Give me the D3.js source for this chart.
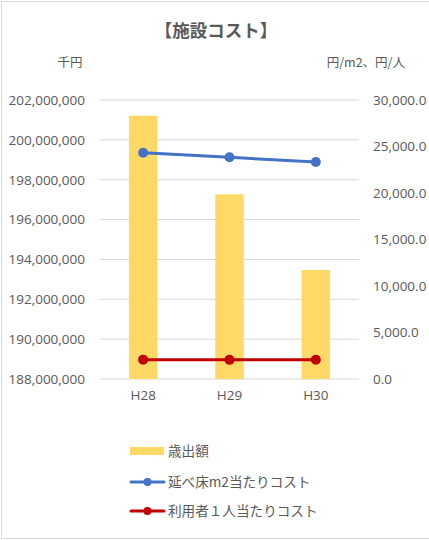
<!DOCTYPE html>
<html>
<head>
<meta charset="utf-8">
<script src="https://cdn.jsdelivr.net/npm/d3@7"></script>
<style>
  body { margin: 0; background: #fff; }
  svg { font-family: "Noto Sans CJK JP", "Noto Sans", sans-serif; }
</style>
</head>
<body>
<div id="chart"></div>
<script>
// data
const years = ["H28", "H29", "H30"];
const spending = [201210000, 197270000, 193470000];   // 歳出額 (千円)
const costPerM2 = [24330, 23840, 23330];              // 延べ床m2当たりコスト
const costPerUser = [2080, 2060, 2070];               // 利用者１人当たりコスト
const leftTicks = [188000000, 190000000, 192000000, 194000000, 196000000, 198000000, 200000000, 202000000];
const rightTicks = [0, 5000, 10000, 15000, 20000, 25000, 30000];

const width = 429, height = 540;
const margin = { top: 100, right: 70, bottom: 161, left: 100 };

const svg = d3.select("#chart").append("svg")
  .attr("width", width)
  .attr("height", height);

// chart frame
svg.append("rect")
  .attr("x", 1.5).attr("y", 1.5)
  .attr("width", width + 10).attr("height", height - 3)
  .attr("fill", "none")
  .attr("stroke", "#d9d9d9");

const x = d3.scaleBand()
  .domain(years)
  .range([margin.left, width - margin.right])
  .paddingInner(0.67)
  .paddingOuter(0.335);

const xc = d => x(d) + x.bandwidth() / 2;

const yL = d3.scaleLinear()
  .domain([188000000, 202000000])
  .range([height - margin.bottom, margin.top]);

const yR = d3.scaleLinear()
  .domain([0, 30000])
  .range([height - margin.bottom, margin.top]);

// gridlines
svg.append("g")
  .selectAll("line")
  .data(leftTicks)
  .join("line")
  .attr("x1", margin.left)
  .attr("x2", width - margin.right)
  .attr("y1", d => yL(d))
  .attr("y2", d => yL(d))
  .attr("stroke", "#d9d9d9")
  .attr("stroke-width", 1);

// left axis
const axL = svg.append("g")
  .attr("transform", `translate(${margin.left - 15},0)`)
  .call(d3.axisLeft(yL).tickValues(leftTicks).tickSize(0).tickFormat(d3.format(",")));
axL.select(".domain").remove();
axL.selectAll("text")
  .attr("fill", "#595959")
  .attr("font-size", 13.5)
  .attr("font-family", "'Open Sans', sans-serif")
  .attr("x", 0);

// right axis
const axR = svg.append("g")
  .attr("transform", `translate(${width - margin.right + 14},0)`)
  .call(d3.axisRight(yR).tickValues(rightTicks).tickSize(0).tickFormat(d3.format(",.1f")));
axR.select(".domain").remove();
axR.selectAll("text")
  .attr("fill", "#595959")
  .attr("font-size", 13.5)
  .attr("font-family", "'Open Sans', sans-serif")
  .attr("x", 0);

// x axis
const axX = svg.append("g")
  .attr("transform", `translate(0,${height - margin.bottom})`)
  .call(d3.axisBottom(x).tickSize(0));
axX.select(".domain").remove();
axX.selectAll("text")
  .attr("fill", "#595959")
  .attr("font-size", 13.5)
  .attr("font-family", "'Open Sans', sans-serif")
  .attr("dy", "1.35em");

// bars
svg.append("g")
  .selectAll("rect")
  .data(spending)
  .join("rect")
  .attr("x", (d, i) => x(years[i]))
  .attr("width", x.bandwidth())
  .attr("y", d => yL(d))
  .attr("height", d => yL.range()[0] - yL(d))
  .attr("fill", "#FFD966");

// lines
const lineSeries = [
  { values: costPerM2, color: "#4472C4" },
  { values: costPerUser, color: "#C00000" }
];
const line = d3.line().x((d, i) => xc(years[i])).y(d => yR(d));

lineSeries.forEach(s => {
  svg.append("path")
    .datum(s.values)
    .attr("d", line)
    .attr("fill", "none")
    .attr("stroke", s.color)
    .attr("stroke-width", 3)
    .attr("stroke-linecap", "round");
  svg.append("g")
    .selectAll("circle")
    .data(s.values)
    .join("circle")
    .attr("cx", (d, i) => xc(years[i]))
    .attr("cy", d => yR(d))
    .attr("r", 5)
    .attr("fill", s.color);
});

// titles
svg.append("text")
  .attr("x", 216).attr("y", 37)
  .attr("text-anchor", "middle")
  .attr("font-size", 17.5)
  .attr("font-weight", "bold")
  .attr("fill", "#595959")
  .text("【施設コスト】");

svg.append("text")
  .attr("x", 70).attr("y", 67)
  .attr("text-anchor", "middle")
  .attr("font-size", 12.5)
  .attr("fill", "#595959")
  .text("千円");

svg.append("text")
  .attr("x", 405).attr("y", 67)
  .attr("text-anchor", "end")
  .attr("font-size", 12.5)
  .attr("fill", "#595959")
  .text("円/m2、円/人");

// legend
const legend = svg.append("g").attr("transform", "translate(130,0)");
const legendItems = [
  { label: "歳出額", color: "#FFD966", type: "bar", y: 451 },
  { label: "延べ床m2当たりコスト", color: "#4472C4", type: "line", y: 482 },
  { label: "利用者１人当たりコスト", color: "#C00000", type: "line", y: 511 }
];
legendItems.forEach(item => {
  if (item.type === "bar") {
    legend.append("rect")
      .attr("x", 0).attr("y", item.y - 4)
      .attr("width", 34).attr("height", 8)
      .attr("fill", item.color);
  } else {
    legend.append("line")
      .attr("x1", 1).attr("x2", 34)
      .attr("y1", item.y).attr("y2", item.y)
      .attr("stroke", item.color)
      .attr("stroke-width", 3)
      .attr("stroke-linecap", "round");
    legend.append("circle")
      .attr("cx", 17.5).attr("cy", item.y)
      .attr("r", 4)
      .attr("fill", item.color);
  }
  legend.append("text")
    .attr("x", 38).attr("y", item.y)
    .attr("dy", "0.35em")
    .attr("font-size", 13.6)
    .attr("fill", "#595959")
    .text(item.label);
});
</script>
</body>
</html>
